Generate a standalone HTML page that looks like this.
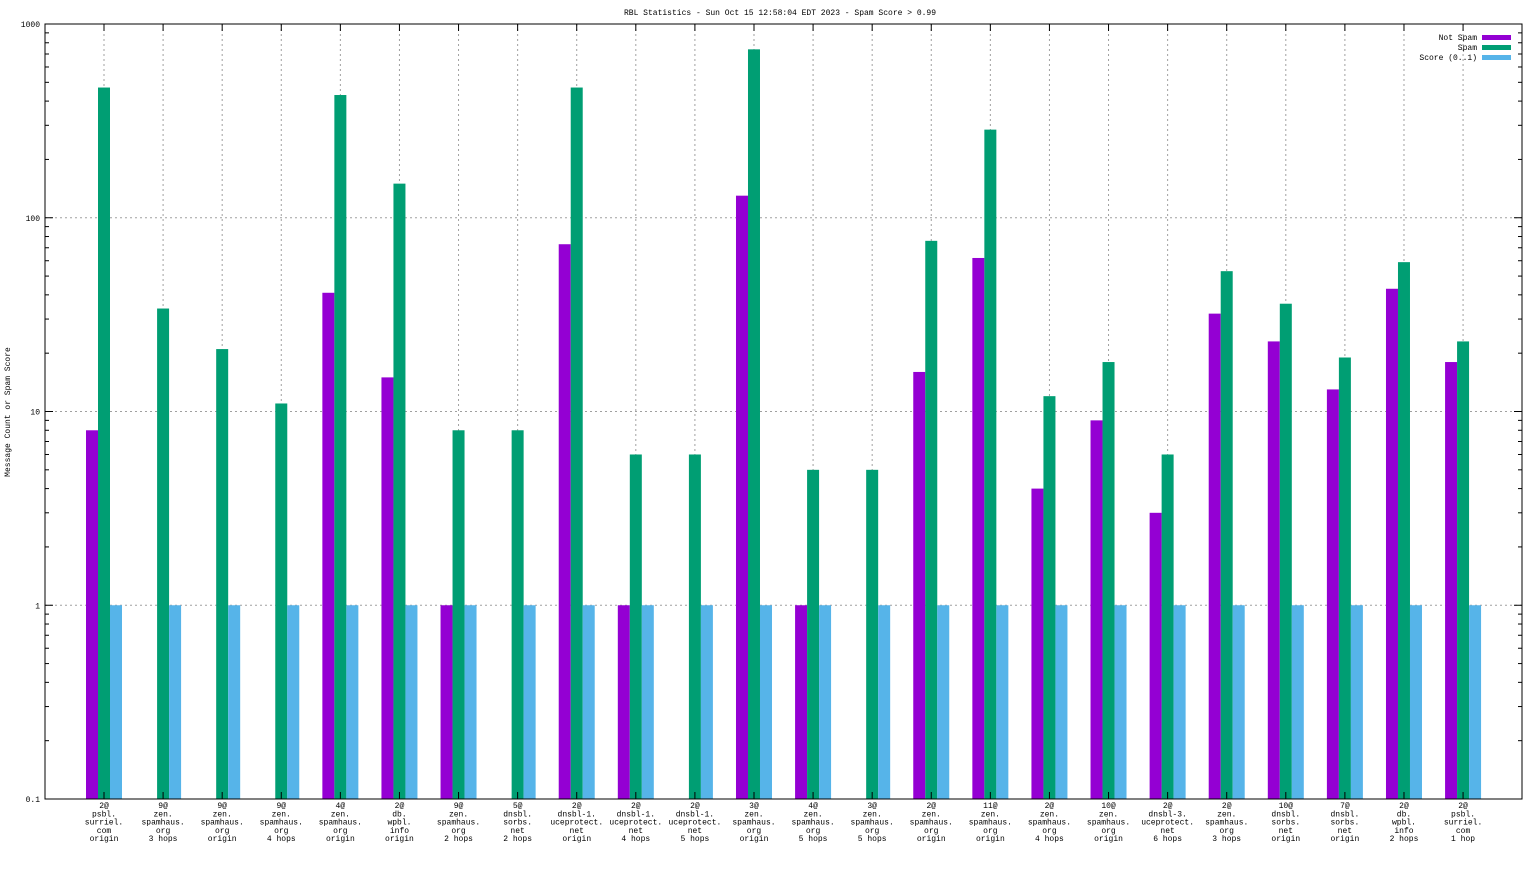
<!DOCTYPE html>
<html><head><meta charset="utf-8"><style>
html,body{margin:0;padding:0;background:#fff;}
svg text{font-family:"Liberation Mono",monospace;font-size:8px;fill:#000;}
</style></head><body>
<svg id="chart" width="1536" height="864" xmlns="http://www.w3.org/2000/svg">
<text x="780" y="15" text-anchor="middle">RBL Statistics - Sun Oct 15 12:58:04 EDT 2023 - Spam Score &gt; 0.99</text>
<text transform="translate(10,412) rotate(-90)" text-anchor="middle">Message Count or Spam Score</text>
<g id="grid"></g><g id="bars"></g><g id="axes"></g><g id="labels"></g>
<g>
<text x="1477" y="40" text-anchor="end">Not Spam</text>
<rect x="1482" y="35" width="29" height="5" fill="#9400d3"/>
<text x="1477" y="50" text-anchor="end">Spam</text>
<rect x="1482" y="45" width="29" height="5" fill="#009e73"/>
<text x="1477" y="60" text-anchor="end">Score (0..1)</text>
<rect x="1482" y="55" width="29" height="5" fill="#56b4e9"/>
</g>
</svg>
<script>
const categories=[
["2@","psbl.","surriel.","com","origin"],["9@","zen.","spamhaus.","org","3 hops"],["9@","zen.","spamhaus.","org","origin"],["9@","zen.","spamhaus.","org","4 hops"],["4@","zen.","spamhaus.","org","origin"],["2@","db.","wpbl.","info","origin"],["9@","zen.","spamhaus.","org","2 hops"],["5@","dnsbl.","sorbs.","net","2 hops"],["2@","dnsbl-1.","uceprotect.","net","origin"],["2@","dnsbl-1.","uceprotect.","net","4 hops"],["2@","dnsbl-1.","uceprotect.","net","5 hops"],["3@","zen.","spamhaus.","org","origin"],["4@","zen.","spamhaus.","org","5 hops"],["3@","zen.","spamhaus.","org","5 hops"],["2@","zen.","spamhaus.","org","origin"],["11@","zen.","spamhaus.","org","origin"],["2@","zen.","spamhaus.","org","4 hops"],["10@","zen.","spamhaus.","org","origin"],["2@","dnsbl-3.","uceprotect.","net","6 hops"],["2@","zen.","spamhaus.","org","3 hops"],["10@","dnsbl.","sorbs.","net","origin"],["7@","dnsbl.","sorbs.","net","origin"],["2@","db.","wpbl.","info","2 hops"],["2@","psbl.","surriel.","com","1 hop"]];
const notSpam=[8,0,0,0,41,15,1,0,73,1,0,130,1,0,16,62,4,9,3,32,23,13,43,18];
const spam=[470,34,21,11,430,150,8,8,470,6,6,740,5,5,76,285,12,18,6,53,36,19,59,23];
const score=[1,1,1,1,1,1,1,1,1,1,1,1,1,1,1,1,1,1,1,1,1,1,1,1];
const yTicks=[0.1,1,10,100,1000];
const yTickLabels=["0.1","1","10","100","1000"];

const L=45,R=1522,T=24,B=799;
const yMin=0.1,yMax=1000;
function y(v){return B-(Math.log10(v)-Math.log10(yMin))/(Math.log10(yMax)-Math.log10(yMin))*(B-T);}
const step=59.09;
function xc(i){return 104+i*step;}
const NS="http://www.w3.org/2000/svg";
function mk(tag,attrs,parent){const e=document.createElementNS(NS,tag);for(const k in attrs)e.setAttribute(k,attrs[k]);document.getElementById(parent).appendChild(e);return e;}

// grid
yTicks.forEach((t,k)=>{
 if(k>0&&k<yTicks.length-1){const g=mk('line',{x1:L,x2:R,y1:y(t),y2:y(t),stroke:'#a0a0a0','stroke-dasharray':'2,3','stroke-width':1},'grid');
 
 }
 const tl=mk('text',{x:L-5,y:y(t)+3,'text-anchor':'end'},'labels');tl.textContent=yTickLabels[k];
 
 
 // minor ticks
 if(k<yTicks.length-1){for(let m=2;m<=9;m++){const yy=y(t*m);mk('line',{x1:L,x2:L+4,y1:yy,y2:yy,stroke:'#000'},'axes');mk('line',{x1:R,x2:R-4,y1:yy,y2:yy,stroke:'#000'},'axes');}}
 mk('line',{x1:L,x2:L+8,y1:y(t),y2:y(t),stroke:'#000'},'axes');mk('line',{x1:R,x2:R-8,y1:y(t),y2:y(t),stroke:'#000'},'axes');
});
categories.forEach((c,i)=>{
 const x=xc(i);
 const g=mk('line',{x1:x,x2:x,y1:T,y2:B,stroke:'#a0a0a0','stroke-dasharray':'2,3'},'grid');
 
 
 mk('line',{x1:x,x2:x,y1:T,y2:T+7,stroke:'#000'},'axes');
 mk('line',{x1:x,x2:x,y1:B,y2:B-7,stroke:'#000'},'axes');
 c.forEach((s,j)=>{const t=mk('text',{x:x,y:808+j*8.3,'text-anchor':'middle'},'labels');t.textContent=s;
  
  });
 const series=[[notSpam,'#9400d3','not-spam'],[spam,'#009e73','spam'],[score,'#56b4e9','score']];
 series.forEach((s,k)=>{const v=s[0][i];if(!(v>yMin))return;
  const bx=x-18+k*12;const top=y(Math.min(v,yMax));
  const r=mk('rect',{x:bx,y:top,width:12,height:B-top,fill:s[1]},'bars');
  
  });
});
const fr=mk('rect',{x:L,y:T,width:R-L,height:B-T,fill:'none',stroke:'#000','stroke-width':1},'axes');


</script>
</body></html>
